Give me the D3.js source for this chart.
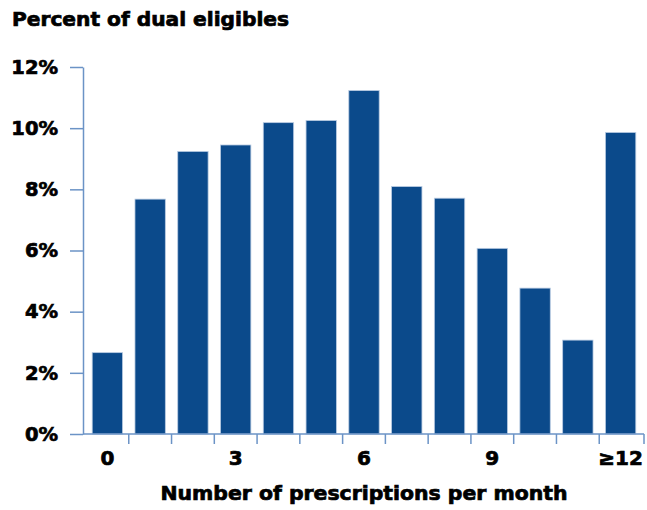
<!DOCTYPE html>
<html lang="en">
<head>
<meta charset="utf-8">
<title>Percent of dual eligibles</title>
<style>
  body { margin: 0; background: #fff; }
  text { font-family: "DejaVu Sans", "Liberation Sans", Arial, sans-serif; font-weight: bold; fill: #000; }
</style>
</head>
<body>
<div id="chart"></div>
<script src="https://cdnjs.cloudflare.com/ajax/libs/d3/7.8.5/d3.min.js"></script>
<script>
  // number of prescriptions per month (last one is 12 or more)
  var categories = ["0", "1", "2", "3", "4", "5", "6", "7", "8", "9", "10", "11", "≥12"];
  // percent of dual eligibles
  var percents = [2.66, 7.68, 9.24, 9.45, 10.18, 10.25, 11.23, 8.09, 7.71, 6.07, 4.77, 3.07, 9.86];
  var yTicks = [0, 2, 4, 6, 8, 10, 12];
  var xLabels = ["0", "3", "6", "9", "≥12"];

  var width = 647, height = 510;
  var barColor = "#0b4a8b", axisColor = "#6b93c6";
  var fontFam = "DejaVu Sans, Liberation Sans, Arial, sans-serif";

  var svg = d3.select("#chart").append("svg")
      .attr("width", width)
      .attr("height", height);

  var x = d3.scaleBand()
      .domain(categories)
      .range([86, 642])
      .paddingInner(0.29)
      .paddingOuter(0.145);

  var y = d3.scaleLinear()
      .domain([0, 12])
      .range([434, 67]);

  function heavy(sel) {
    sel.attr("font-family", fontFam)
       .attr("font-weight", "bold")
       .attr("fill", "#000")
       .attr("stroke", "#000")
       .attr("stroke-width", 0.7);
  }

  // title
  svg.append("text")
      .attr("x", 12)
      .attr("y", 26)
      .attr("font-size", 19)
      .attr("textLength", 277)
      .attr("lengthAdjust", "spacingAndGlyphs")
      .call(heavy)
      .text("Percent of dual eligibles");

  // bars
  svg.selectAll("rect.bar")
      .data(percents)
      .enter().append("rect")
      .attr("class", "bar")
      .attr("x", function(d, i) { return x(categories[i]); })
      .attr("y", function(d) { return y(d); })
      .attr("width", x.bandwidth())
      .attr("height", function(d) { return y(0) - y(d); })
      .attr("fill", barColor)
      .attr("stroke", "#b9cbe2")
      .attr("stroke-width", 0.8);

  // y axis
  var yAxis = svg.append("g")
      .attr("transform", "translate(83,0)")
      .call(d3.axisLeft(y)
          .tickValues(yTicks)
          .tickSize(13)
          .tickSizeOuter(0)
          .tickPadding(12)
          .tickFormat(function(d) { return d + "%"; }));
  yAxis.selectAll("path, line").attr("stroke", axisColor).attr("stroke-width", 1.5);
  yAxis.selectAll("text")
      .attr("font-size", 19.5)
      .call(heavy);

  // x axis: line, ticks between bars, labels under some bars
  var gap = x.step() * x.paddingInner() / 2;
  var xAxis = svg.append("g").attr("transform", "translate(0,434)");
  xAxis.append("line")
      .attr("x1", 83).attr("x2", 644)
      .attr("stroke", axisColor).attr("stroke-width", 1.5);
  var bounds = categories.slice(1).map(function(c) { return x(c) - gap; });
  bounds.push(x.range()[1] + 2);
  xAxis.selectAll("line.tick")
      .data(bounds)
      .enter().append("line")
      .attr("class", "tick")
      .attr("x1", function(d) { return d; })
      .attr("x2", function(d) { return d; })
      .attr("y1", 0).attr("y2", 10)
      .attr("stroke", axisColor).attr("stroke-width", 1.5);

  var xl = svg.append("g")
      .attr("transform", "translate(0,434)")
      .call(d3.axisBottom(x).tickValues(xLabels).tickSize(0).tickPadding(17));
  xl.select(".domain").remove();
  xl.selectAll("text")
      .attr("font-size", 20)
      .call(heavy);

  svg.append("text")
      .attr("x", 364)
      .attr("y", 500)
      .attr("text-anchor", "middle")
      .attr("font-size", 19)
      .attr("textLength", 407)
      .attr("lengthAdjust", "spacingAndGlyphs")
      .call(heavy)
      .text("Number of prescriptions per month");
</script>
</body>
</html>
